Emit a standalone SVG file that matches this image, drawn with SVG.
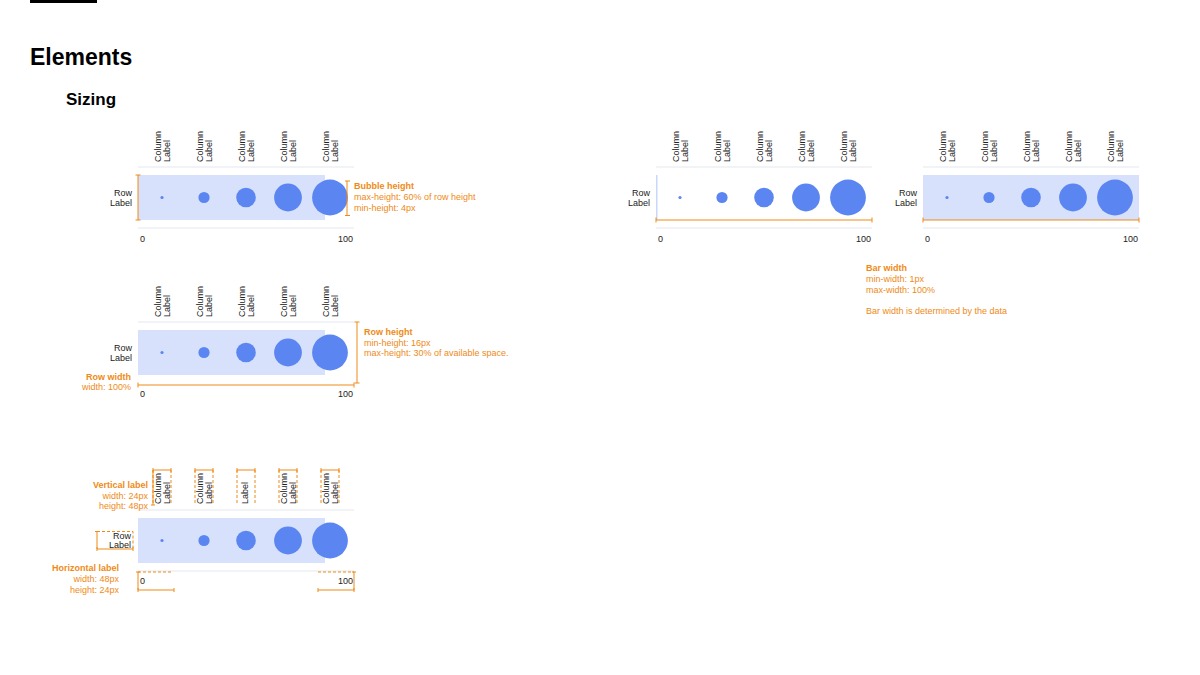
<svg xmlns="http://www.w3.org/2000/svg" xmlns:xlink="http://www.w3.org/1999/xlink" width="1200" height="675" viewBox="0 0 1200 675">
<style>
text{font-family:"Liberation Sans",Arial,sans-serif}
.lbl{font-size:9px;fill:#222}
.ann{font-size:9px;fill:#EF8A17}
.b{font-weight:bold}
.sep{stroke:#EDEFF3;stroke-width:1.5}
.bar{fill:#D7E1FB}
.bub{fill:#5B86F2}
.or{stroke:#EF8A17;stroke-width:1;fill:none}
.dash{stroke-dasharray:3 2}
.end{text-anchor:end}
</style>
<defs>
<g id="cols">
<text class="lbl" transform="translate(23,-5) rotate(-90)">Column</text>
<text class="lbl" transform="translate(32,-5) rotate(-90)">Label</text>
<text class="lbl" transform="translate(65,-5) rotate(-90)">Column</text>
<text class="lbl" transform="translate(74,-5) rotate(-90)">Label</text>
<text class="lbl" transform="translate(107,-5) rotate(-90)">Column</text>
<text class="lbl" transform="translate(116,-5) rotate(-90)">Label</text>
<text class="lbl" transform="translate(149,-5) rotate(-90)">Column</text>
<text class="lbl" transform="translate(158,-5) rotate(-90)">Label</text>
<text class="lbl" transform="translate(191,-5) rotate(-90)">Column</text>
<text class="lbl" transform="translate(200,-5) rotate(-90)">Label</text>
</g>
<g id="bubs">
<circle class="bub" cx="24" cy="30.5" r="1.6"/>
<circle class="bub" cx="66" cy="30.5" r="5.6"/>
<circle class="bub" cx="108" cy="30.5" r="9.8"/>
<circle class="bub" cx="150" cy="30.5" r="13.9"/>
<circle class="bub" cx="192" cy="30.5" r="17.9"/>
</g>
<g id="rowlabel">
<text class="lbl end" x="-6" y="29">Row</text>
<text class="lbl end" x="-6" y="38.5">Label</text>
</g>
<g id="axis">
<text class="lbl" x="2" y="75">0</text>
<text class="lbl end" x="215" y="75">100</text>
</g>
<g id="vbox" class="or">
<path d="M0,-40H18M0,-42V-38M18,-42V-38"/>
<path class="dash" d="M0,-40V-5M18,-40V-5"/>
</g>
</defs>

<rect x="30" y="0" width="67" height="3" fill="#000"/>
<text x="30" y="65" font-size="23" font-weight="bold" fill="#000">Elements</text>
<text x="66" y="105" font-size="17" font-weight="bold" fill="#000">Sizing</text>

<!-- Panel 1: bubble height -->
<g id="panel-bubble-height" transform="translate(138,167)">
<line class="sep" x1="0" y1="0" x2="216" y2="0"/>
<rect class="bar" x="0" y="8" width="187" height="45"/>
<use xlink:href="#cols"/>
<use xlink:href="#bubs"/>
<line class="sep" x1="0" y1="61" x2="216" y2="61"/>
<use xlink:href="#rowlabel"/>
<use xlink:href="#axis"/>
<g class="or">
<line x1="0" y1="8" x2="0" y2="53"/>
<line x1="-2.5" y1="8" x2="2.5" y2="8"/>
<line x1="-2.5" y1="53" x2="2.5" y2="53"/>
<line x1="209" y1="14" x2="209" y2="48.5"/>
<line x1="207" y1="14" x2="212" y2="14"/>
<line x1="207" y1="48.5" x2="212" y2="48.5"/>
</g>
<text class="ann b" x="216" y="22">Bubble height</text>
<text class="ann" x="216" y="33">max-height: 60% of row height</text>
<text class="ann" x="216" y="44">min-height: 4px</text>
</g>

<!-- Panel 2: row height / width -->
<g id="panel-row-size" transform="translate(138,322)">
<line class="sep" x1="0" y1="0" x2="216" y2="0"/>
<rect class="bar" x="0" y="8" width="187" height="45"/>
<use xlink:href="#cols"/>
<use xlink:href="#bubs"/>
<use xlink:href="#rowlabel"/>
<use xlink:href="#axis"/>
<g class="or">
<line x1="0" y1="63" x2="216" y2="63"/>
<line x1="0" y1="60.5" x2="0" y2="65.5"/>
<line x1="216" y1="60.5" x2="216" y2="65.5"/>
<line x1="219" y1="0" x2="219" y2="61"/>
<line x1="216.5" y1="0" x2="221.5" y2="0"/>
<line x1="216.5" y1="61" x2="221.5" y2="61"/>
</g>
<text class="ann b" x="226" y="13">Row height</text>
<text class="ann" x="226" y="23.5">min-height: 16px</text>
<text class="ann" x="226" y="34">max-height: 30% of available space.</text>
<text class="ann b end" x="-7" y="58">Row width</text>
<text class="ann end" x="-7" y="68">width: 100%</text>
</g>

<!-- Panel 3: label sizes -->
<g id="panel-labels" transform="translate(138,510)">
<line class="sep" x1="0" y1="0" x2="216" y2="0"/>
<rect class="bar" x="0" y="8" width="187" height="45"/>
<use xlink:href="#bubs"/>
<line class="sep" x1="0" y1="61" x2="216" y2="61"/>
<text class="lbl" transform="translate(23,-6) rotate(-90)">Column</text>
<text class="lbl" transform="translate(32,-6) rotate(-90)">Label</text>
<text class="lbl" transform="translate(65,-6) rotate(-90)">Column</text>
<text class="lbl" transform="translate(74,-6) rotate(-90)">Label</text>
<text class="lbl" transform="translate(110,-6) rotate(-90)">Label</text>
<text class="lbl" transform="translate(149,-6) rotate(-90)">Column</text>
<text class="lbl" transform="translate(158,-6) rotate(-90)">Label</text>
<text class="lbl" transform="translate(191,-6) rotate(-90)">Column</text>
<text class="lbl" transform="translate(200,-6) rotate(-90)">Label</text>
<use xlink:href="#vbox" x="15"/>
<use xlink:href="#vbox" x="57"/>
<use xlink:href="#vbox" x="99"/>
<use xlink:href="#vbox" x="141"/>
<use xlink:href="#vbox" x="183"/>
<g class="or">
<path d="M15,-40V-5M13,-5H17"/>
<path d="M-41,21.5V39H-5M-43,21.5H-39M-41,37V41M-5,37V41"/>
<path class="dash" d="M-41,21.5H-5V39"/>
<path class="dash" d="M0,62H34"/>
<path d="M0,62V80H36M-2,62H2M0,78V82M36,78V82"/>
<path class="dash" d="M180,62H216"/>
<path d="M216,62V80H180M214,62H218M180,78V82M216,78V82"/>
</g>
<text class="lbl end" x="-7" y="28.5">Row</text>
<text class="lbl end" x="-7" y="38">Label</text>
<text class="lbl" x="2" y="74">0</text>
<text class="lbl end" x="215" y="74">100</text>
<text class="ann b end" x="10" y="-22">Vertical label</text>
<text class="ann end" x="10" y="-11.5">width: 24px</text>
<text class="ann end" x="10" y="-1">height: 48px</text>
<text class="ann b end" x="-19" y="60.5">Horizontal label</text>
<text class="ann end" x="-19" y="71.5">width: 48px</text>
<text class="ann end" x="-19" y="82.5">height: 24px</text>
</g>

<!-- Panel 4: bar min width -->
<g id="panel-bar-min" transform="translate(656,167)">
<line class="sep" x1="0" y1="0" x2="216" y2="0"/>
<line x1="0.75" y1="8" x2="0.75" y2="53" stroke="#C9D7FA" stroke-width="1.5"/>
<use xlink:href="#cols"/>
<use xlink:href="#bubs"/>
<line class="sep" x1="0" y1="61" x2="216" y2="61"/>
<use xlink:href="#rowlabel"/>
<use xlink:href="#axis"/>
<g class="or">
<line x1="0" y1="53" x2="216" y2="53"/>
<line x1="0" y1="50.5" x2="0" y2="55.5"/>
<line x1="216" y1="50.5" x2="216" y2="55.5"/>
</g>
<text class="ann b" x="210" y="103.5">Bar width</text>
<text class="ann" x="210" y="114.5">min-width: 1px</text>
<text class="ann" x="210" y="125.5">max-width: 100%</text>
<text class="ann" x="210" y="146.5">Bar width is determined by the data</text>
</g>

<!-- Panel 5: bar max width -->
<g id="panel-bar-max" transform="translate(923,167)">
<line class="sep" x1="0" y1="0" x2="216" y2="0"/>
<rect class="bar" x="0" y="8" width="216" height="45"/>
<use xlink:href="#cols"/>
<use xlink:href="#bubs"/>
<line class="sep" x1="0" y1="61" x2="216" y2="61"/>
<use xlink:href="#rowlabel"/>
<use xlink:href="#axis"/>
<g class="or">
<line x1="0" y1="53" x2="216" y2="53"/>
<line x1="0" y1="50.5" x2="0" y2="55.5"/>
<line x1="216" y1="50.5" x2="216" y2="55.5"/>
</g>
</g>
</svg>
